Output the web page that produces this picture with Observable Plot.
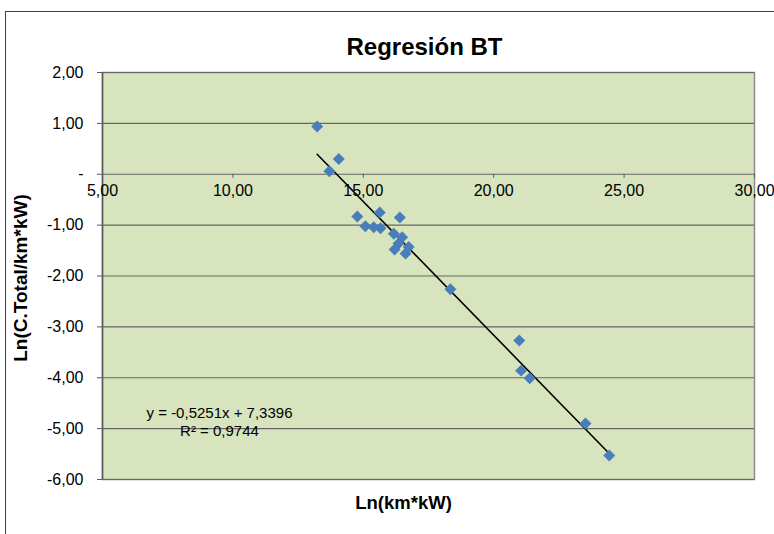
<!DOCTYPE html>
<html>
<head>
<meta charset="utf-8">
<script src="https://cdn.jsdelivr.net/npm/d3@7"></script>
<script src="https://cdn.jsdelivr.net/npm/@observablehq/plot@0.6"></script>
<style>
  body { margin: 0; background: #fff; }
  #chart { position: relative; width: 774px; height: 534px; overflow: hidden; }
  #chart-border { position: absolute; left: 5px; top: 11px; width: 900px; height: 700px;
                  border-left: 1.5px solid #404040; border-top: 1.5px solid #404040; }
  #chart svg { position: absolute; left: 0; top: 0; }
</style>
</head>
<body>
<div id="chart"><div id="chart-border"></div></div>
<script>
// Observations: Ln(km*kW) against Ln(C.Total/km*kW)
const lnKmKw = [13.23, 14.06, 13.70, 14.77, 15.63, 16.40, 15.08, 15.40, 15.66, 16.17,
                16.49, 16.74, 16.20, 16.62, 16.35, 18.34, 20.98, 21.05, 21.38, 23.52, 24.43];
const lnCostKmKw = [0.94, 0.30, 0.06, -0.83, -0.75, -0.85, -1.02, -1.04, -1.06, -1.17,
                    -1.24, -1.43, -1.48, -1.56, -1.36, -2.26, -3.27, -3.86, -4.01, -4.90, -5.53];

// Linear fit reported on the chart
const slope = -0.5251;
const intercept = 7.3396;
const rSquared = 0.9744;

const xTicks = [5, 10, 15, 20, 25, 30];
const yTicks = [2, 1, 0, -1, -2, -3, -4, -5, -6];

const title = "Regresión BT";
const xLabel = "Ln(km*kW)";
const yLabel = "Ln(C.Total/km*kW)";

const comma = v => v.toFixed(2).replace(".", ",");
const fmtY = v => (v === 0 ? "-" : comma(v));
const fmtNum = (v, d) => v.toFixed(d).replace(".", ",");

const points = lnKmKw.map((x, i) => ({x, y: lnCostKmKw[i]}));
const trend = d3.extent(lnKmKw).map(x => ({x, y: slope * x + intercept}));
const eqText = `y = ${fmtNum(slope, 4)}x + ${fmtNum(intercept, 4)}\nR² = ${fmtNum(rSquared, 4)}`;

const W = 774, H = 534;
const mLeft = 102, mRight = 20, mTop = 72, mBottom = 55;

const chart = Plot.plot({
  width: W,
  height: H,
  marginLeft: mLeft,
  marginRight: mRight,
  marginTop: mTop,
  marginBottom: mBottom,
  style: {fontFamily: "'Liberation Sans', Arial, sans-serif", fontSize: "16px", color: "#000", background: "transparent"},
  x: {domain: [5, 30], axis: null},
  y: {domain: [-6, 2], axis: null},
  marks: [
    Plot.frame({fill: "#d7e4bd", stroke: "#8c8c8c", strokeWidth: 1.5}),
    Plot.gridY(yTicks, {stroke: "#666666", strokeOpacity: 1, strokeWidth: 1.2}),
    // vertical axis line with outward ticks and labels
    Plot.ruleX([5], {stroke: "#595959", strokeWidth: 1.5}),
    Plot.axisY(yTicks, {label: null, tickFormat: fmtY, tickSize: 5, tickPadding: 14, stroke: "#595959", fontSize: 16}),
    // horizontal axis crossing at y = 0
    Plot.ruleX(xTicks, {x: d => d, y1: 0, y2: 0, insetBottom: -4, stroke: "#595959"}),
    Plot.text(xTicks, {x: d => d, y: 0, text: comma, dy: 17, fontSize: 16}),
    // regression line and observations
    Plot.line(trend, {x: "x", y: "y", stroke: "#000", strokeWidth: 1.6}),
    Plot.dot(points, {x: "x", y: "y", symbol: "diamond2", r: 5.4, fill: "#4a7ebb", stroke: "none"}),
    // fit equation
    Plot.text([eqText], {frameAnchor: "bottom-left", dx: 117, dy: -58, textAnchor: "middle", lineAnchor: "middle", lineHeight: 1.2, fontSize: 15}),
    // titles
    Plot.text([title], {frameAnchor: "top", dx: -4, dy: -25, textAnchor: "middle", lineAnchor: "middle", fontSize: 24, fontWeight: "bold"}),
    Plot.text([xLabel], {frameAnchor: "bottom", dx: -25, dy: 24, textAnchor: "middle", lineAnchor: "middle", fontSize: 18.5, fontWeight: "bold"}),
    Plot.text([yLabel], {frameAnchor: "left", dx: -82, dy: 2, rotate: -90, textAnchor: "middle", lineAnchor: "middle", fontSize: 19, fontWeight: "bold"})
  ]
});

document.getElementById("chart").appendChild(chart);
</script>
</body>
</html>
